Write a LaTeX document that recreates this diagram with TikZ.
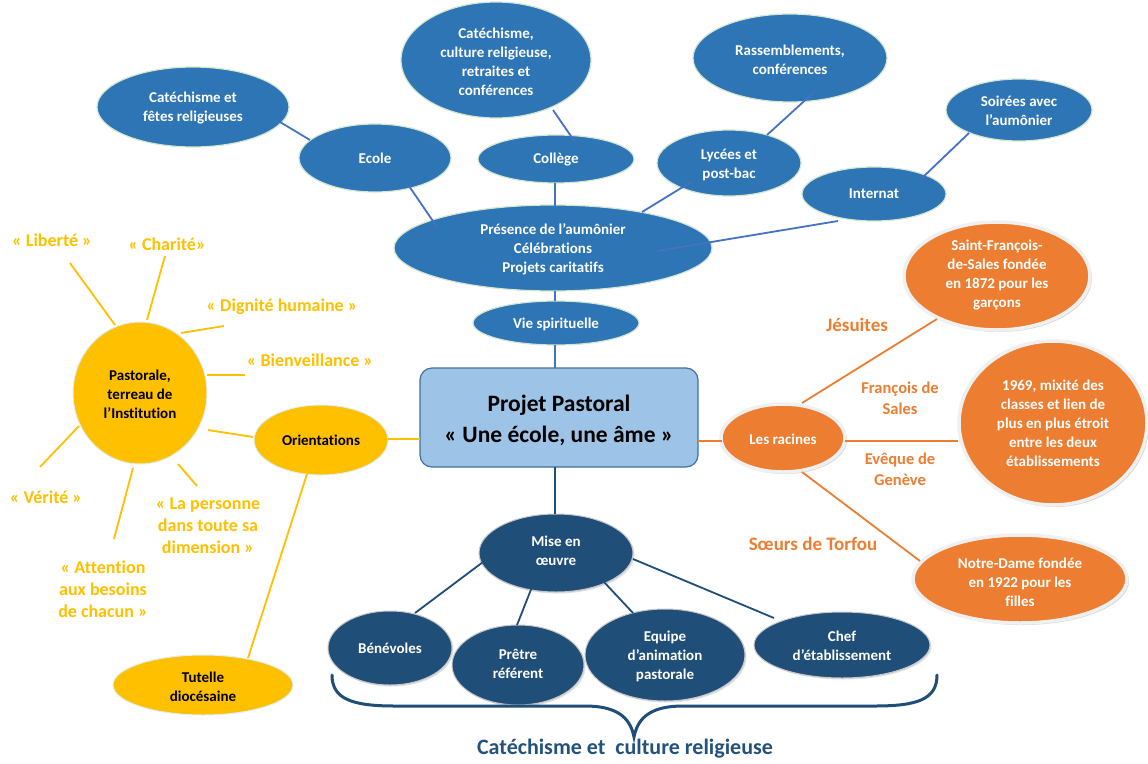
\documentclass[tikz,border=0pt]{standalone}
\usepackage{fontspec}
\setmainfont{Carlito}[Ligatures=NoCommon]
\usetikzlibrary{shapes.geometric,shadows}
\definecolor{cblue}{HTML}{2E75B6}
\definecolor{cdark}{HTML}{1F4E79}
\definecolor{clight}{HTML}{9DC3E6}
\definecolor{cboxb}{HTML}{41719C}
\definecolor{corange}{HTML}{ED7D31}
\definecolor{cyellow}{HTML}{FFC000}
\definecolor{clink}{HTML}{4472C4}
\definecolor{cpale}{HTML}{D3E8D0}
\definecolor{ccyan}{HTML}{DDF0F5}
\definecolor{cbottom}{HTML}{24527F}
\begin{document}
\begin{tikzpicture}[x=1pt,y=-1pt,
  ell/.style={ellipse, inner sep=0pt, outer sep=0pt},
  bn/.style={ell, fill=cblue, draw=cpale, line width=1.2pt},
  dn/.style={ell, fill=cdark, draw=black!22, line width=1pt, drop shadow={opacity=0.25, shadow xshift=1.5pt, shadow yshift=-1.5pt}},
  on/.style={ell, fill=corange, draw=black!6, line width=3.5pt, drop shadow={opacity=0.3, shadow xshift=2pt, shadow yshift=-2pt}},
  yn/.style={ell, fill=cyellow, draw=ccyan, line width=1pt},
  wt/.style={text=white, align=center, font=\fontsize{15}{19}\selectfont\bfseries, inner sep=0pt},
  kt/.style={text=black, align=center, font=\fontsize{15}{19}\selectfont\bfseries, inner sep=0pt},
  yt/.style={text=cyellow, align=center, font=\fontsize{18}{22}\selectfont\bfseries, inner sep=0pt},
  ot/.style={text=corange, align=center, font=\fontsize{16.5}{21}\selectfont\bfseries, inner sep=0pt},
  obt/.style={text=corange, align=center, font=\fontsize{19}{22}\selectfont\bfseries, inner sep=0pt},
  lk/.style={draw=clink, line width=1.8pt},
  dk/.style={draw=cdark, line width=1.8pt},
  ok/.style={draw=corange, line width=1.8pt},
  yk/.style={draw=cyellow, line width=1.8pt}]
\fill[white] (0,0) rectangle (1148,763);
\useasboundingbox (0,0) rectangle (1148,763);

% ---- top blue nodes
\node[bn, minimum width=192pt, minimum height=80pt] (cf) at (193,107) {};
\node[wt] (cft) at (193,108) {Catéchisme et\\fêtes religieuses};
\node[bn, minimum width=190pt, minimum height=116pt] (catc) at (496,60) {};
\node[wt] (catct) at (496,62) {Catéchisme,\\culture religieuse,\\retraites et\\conférences};
\node[bn, minimum width=194pt, minimum height=88pt] (ras) at (790,58) {};
\node[wt] (rast) at (790,60) {Rassemblements,\\conférences};
\node[bn, minimum width=146pt, minimum height=62pt] (soi) at (1019,110) {};
\node[wt] (soit) at (1019,111) {Soirées avec\\l’aumônier};
\node[bn, minimum width=152pt, minimum height=68pt] (ecole) at (375,158) {};
\node[wt] (ecolet) at (375,158) {Ecole};
\node[bn, minimum width=156pt, minimum height=48pt] (col) at (556,159) {};
\node[wt] (colt) at (556,160) {Collège};
\node[bn, minimum width=144pt, minimum height=66pt] (lyc) at (729,163) {};
\node[wt] (lyct) at (729,165) {Lycées et\\post-bac};
\node[bn, minimum width=144pt, minimum height=54pt] (int) at (874,194) {};
\node[wt] (intt) at (874,194) {Internat};
\node[bn, minimum width=318pt, minimum height=86pt] (pres) at (553,248) {};
\node[wt] (prest) at (553,249) {Présence de l’aumônier\\Célébrations\\Projets caritatifs};
\node[bn, minimum width=166pt, minimum height=44pt] (vie) at (556,323) {};
\node[wt] (viet) at (556,324) {Vie spirituelle};

% ---- central box
\node[draw=cboxb, fill=clight, rounded corners=12pt, line width=1.2pt, minimum width=278pt, minimum height=99pt, inner sep=0pt] (proj) at (559,417.5) {};
\node[align=center, font=\fontsize{23.5}{31}\selectfont\bfseries, inner sep=0pt] (projt) at (559,420) {Projet Pastoral\\« Une école, une âme »};

% ---- bottom dark nodes
\node[dn, minimum width=154pt, minimum height=78pt] (mise) at (556,553) {};
\node[wt] (miset) at (556,551) {Mise en\\œuvre};
\node[dn, minimum width=124pt, minimum height=74pt] (ben) at (390,648) {};
\node[wt] (bent) at (390,648) {Bénévoles};
\node[dn, minimum width=132pt, minimum height=80pt] (pre) at (518,665) {};
\node[wt] (pret) at (518,664) {Prêtre\\référent};
\node[dn, minimum width=160pt, minimum height=92pt] (equ) at (665,655) {};
\node[wt] (equt) at (665,656) {Equipe\\d’animation\\pastorale};
\node[dn, minimum width=176pt, minimum height=66pt] (chef) at (842,645) {};
\node[wt] (cheft) at (842,646) {Chef\\d’établissement};

% ---- orange nodes
\node[on, minimum width=124pt, minimum height=68pt] (rac) at (783,438) {};
\node[wt] (ract) at (783,439) {Les racines};
\node[on, minimum width=186pt, minimum height=108pt] (sfs) at (997,276) {};
\node[wt] (sfst) at (997,275) {Saint-François-\\de-Sales fondée\\en 1872 pour les\\garçons};
\node[on, minimum width=188pt, minimum height=164pt] (n69) at (1053,423) {};
\node[wt] (n69t) at (1053,423) {1969, mixité des\\classes et lien de\\plus en plus étroit\\entre les deux\\établissements};
\node[on, minimum width=214pt, minimum height=88pt] (nd) at (1020,579) {};
\node[wt] (ndt) at (1020,582) {Notre-Dame fondée\\en 1922 pour les\\filles};

% ---- orange labels
\node[obt] (jes) at (857,325) {Jésuites};
\node[ot] (fds) at (900,398) {François de\\Sales};
\node[ot] (evg) at (900,469) {Evêque de\\Genève};
\node[obt] (sdt) at (813,544) {Sœurs de Torfou};

% ---- yellow nodes
\node[yn, minimum width=134pt, minimum height=142pt] (past) at (140,393) {};
\node[kt] (pastt) at (140,394) {Pastorale,\\terreau de\\l’Institution};
\node[yn, minimum width=134pt, minimum height=70pt] (ori) at (321,440) {};
\node[kt] (orit) at (321,440) {Orientations};
\node[yn, minimum width=180pt, minimum height=60pt] (tut) at (203,685) {};
\node[kt] (tutt) at (203,687) {Tutelle\\diocésaine};

% ---- yellow labels
\node[yt] (lib) at (52,240) {« Liberté »};
\node[yt] (cha) at (167,244) {« Charité»};
\node[yt] (dig) at (282,307) {« Dignité humaine »};
\node[yt] (bie) at (310,360) {« Bienveillance »};
\node[yt] (ver) at (46,497) {« Vérité »};
\node[yt] (att) at (103,589) {« Attention\\aux besoins\\de chacun »};
\node[yt] (per) at (208,526) {« La personne\\dans toute sa\\dimension »};

% ---- blue connectors
\draw[lk] ([shift={(87,15)}]cf.center) -- ([shift={(-65,-18)}]ecole.center);
\draw[lk] ([shift={(34,28)}]ecole.center) -- ([shift={(-116,-21)}]pres.center);
\draw[lk] ([shift={(57,50)}]catc.center) -- ([shift={(19,-17)}]col.center);
\draw[lk] ([shift={(-1,24)}]col.center) -- ([shift={(2,-41)}]pres.center);
\draw[lk] ([shift={(23,35)}]ras.center) -- ([shift={(38,-28)}]lyc.center);
\draw[lk] ([shift={(-38,19)}]lyc.center) -- ([shift={(89,-36)}]pres.center);
\draw[lk] ([shift={(-50,23)}]soi.center) -- ([shift={(48,-16)}]int.center);
\draw[lk] ([shift={(-36,27)}]int.center) -- ([shift={(104,3)}]pres.center);
\draw[lk] ([shift={(2,43)}]pres.center) -- ([shift={(-1,-22)}]vie.center);
\draw[lk] ([shift={(-1,22)}]vie.center) -- ([shift={(-4,-49.5)}]proj.center);

% ---- dark connectors
\draw[dk] ([shift={(-4,49.5)}]proj.center) -- ([shift={(-1,-39)}]mise.center);
\draw[dk] ([shift={(-73,9)}]mise.center) -- ([shift={(25,-35)}]ben.center);
\draw[dk] ([shift={(-24,34)}]mise.center) -- ([shift={(-1,-40)}]pre.center);
\draw[dk] ([shift={(48,29)}]mise.center) -- ([shift={(-32,-42)}]equ.center);
\draw[dk] ([shift={(77,6)}]mise.center) -- ([shift={(-68,-27)}]chef.center);

% ---- orange connectors
\draw[ok] ([shift={(139,23.5)}]proj.center) -- ([shift={(-61,3)}]rac.center);
\draw[ok] ([shift={(19,-35)}]rac.center) -- ([shift={(-60,43)}]sfs.center);
\draw[ok] ([shift={(62,3)}]rac.center) -- ([shift={(-95,18)}]n69.center);
\draw[ok] ([shift={(19,34)}]rac.center) -- ([shift={(-100,-18)}]nd.center);

% ---- yellow connectors
\draw[yk] ([shift={(67,-1)}]ori.center) -- ([shift={(-139,21.5)}]proj.center);
\draw[yk] ([shift={(68,37)}]past.center) -- ([shift={(-68,-3)}]ori.center);
\draw[yk] ([shift={(-14,34)}]ori.center) -- ([shift={(45,-27)}]tut.center);
\draw[yk] ([shift={(18,23)}]lib.center) -- ([shift={(-25,-68)}]past.center);
\draw[yk] ([shift={(-2,12)}]cha.center) -- ([shift={(7,-73)}]past.center);
\draw[yk] ([shift={(-58,19)}]dig.center) -- ([shift={(41,-60)}]past.center);
\draw[yk] ([shift={(-65,15)}]bie.center) -- ([shift={(67,-18)}]past.center);
\draw[yk] ([shift={(-6,-30)}]ver.center) -- ([shift={(-61,33)}]past.center);
\draw[yk] ([shift={(11,-50)}]att.center) -- ([shift={(-7,75)}]past.center);
\draw[yk] ([shift={(-11,-40)}]per.center) -- ([shift={(38,71)}]past.center);

% ---- brace and caption
\coordinate (brl) at (332,675);
\coordinate (brr) at (937,675);
\coordinate (brt) at (634,737);
\draw[cdark, line width=3pt, line cap=round] (brl) .. controls (332,699) and (352,706) .. (395,706) -- (585,706) .. controls (615,706) and (630,716) .. (brt) .. controls (638,716) and (653,706) .. (683,706) -- (875,706) .. controls (918,706) and (937,699) .. (brr);
\node[text=cbottom, font=\fontsize{22}{26}\selectfont\bfseries, inner sep=0pt] (cat) at (625,749) {Catéchisme et\ \ culture religieuse};
\end{tikzpicture}
\end{document}
